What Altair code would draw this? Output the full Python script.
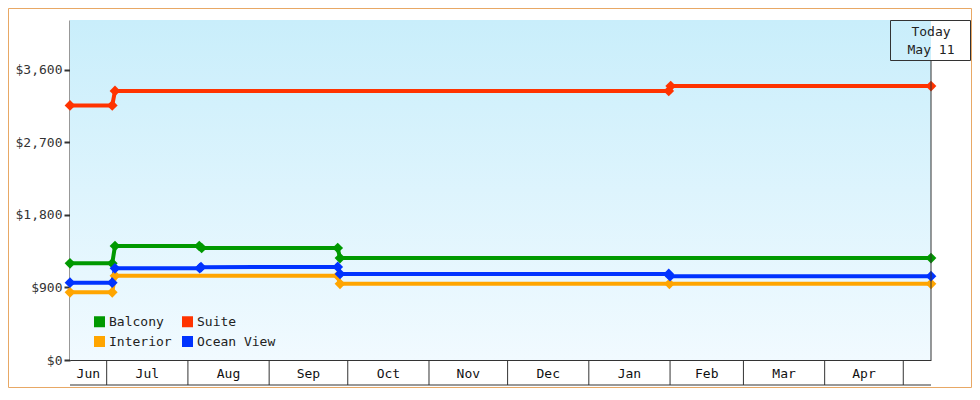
import altair as alt
import pandas as pd

# ---------------- data ----------------
series_order = ["Balcony", "Suite", "Interior", "Ocean View"]
series_colors = ["#009900", "#ff3300", "#ffa500", "#0033ff"]

interior_dates = ["2014-06-17T00:00", "2014-07-03T03:00", "2014-07-04T04:00",
                  "2014-09-27T04:00", "2014-09-28T01:00", "2015-01-31T18:00",
                  "2015-05-11T14:00"]
interior_prices = [840, 840, 1045, 1045, 945, 945, 945]

balcony_dates = ["2014-06-17T00:00", "2014-07-03T03:00", "2014-07-04T04:00",
                 "2014-08-05T08:00", "2014-08-06T06:00", "2014-09-27T04:00",
                 "2014-09-28T01:00", "2015-05-11T14:00"]
balcony_prices = [1200, 1200, 1415, 1415, 1390, 1390, 1265, 1265]

ocean_dates = ["2014-06-17T00:00", "2014-07-03T03:00", "2014-07-04T04:00",
               "2014-08-05T12:00", "2014-08-06T00:00", "2014-09-27T04:00",
               "2014-09-28T01:00", "2015-01-31T12:00", "2015-02-01T00:00",
               "2015-05-11T14:00"]
ocean_prices = [960, 960, 1138, 1140, 1152, 1155, 1068, 1068, 1040, 1040]

suite_dates = ["2014-06-17T00:00", "2014-07-03T03:00", "2014-07-04T04:00",
               "2015-01-31T12:00", "2015-02-01T06:00", "2015-05-11T14:00"]
suite_prices = [3160, 3160, 3340, 3340, 3400, 3400]

month_boundaries = ["2014-07-01T00:00", "2014-08-01T00:00", "2014-09-01T00:00",
                    "2014-10-01T00:00", "2014-11-01T00:00", "2014-12-01T00:00",
                    "2015-01-01T00:00", "2015-02-01T00:00", "2015-03-01T00:00",
                    "2015-04-01T00:00", "2015-05-01T00:00"]
month_labels = ["Jun", "Jul", "Aug", "Sep", "Oct", "Nov", "Dec", "Jan", "Feb", "Mar", "Apr"]
month_label_dates = ["2014-06-24T00:00", "2014-07-16T12:00", "2014-08-16T12:00",
                     "2014-09-16T00:00", "2014-10-16T12:00", "2014-11-16T00:00",
                     "2014-12-16T12:00", "2015-01-16T12:00", "2015-02-15T00:00",
                     "2015-03-16T12:00", "2015-04-16T00:00"]

y_ticks = [0, 900, 1800, 2700, 3600]
today_date = "2015-05-11T14:00"
today_lines = ["Today", "May 11"]

# ---------------- tables ----------------
rows = []
for name, ds, ps in [("Interior", interior_dates, interior_prices),
                     ("Balcony", balcony_dates, balcony_prices),
                     ("Ocean View", ocean_dates, ocean_prices),
                     ("Suite", suite_dates, suite_prices)]:
    for d, p in zip(ds, ps):
        rows.append({"series": name, "date": d, "price": p})
df = pd.DataFrame(rows)
ticks_df = pd.DataFrame({"date": month_boundaries})
labels_df = pd.DataFrame({"date": month_label_dates, "label": month_labels})
today_df = pd.DataFrame({"date": [today_date]})

W, H = 861, 340
FONT = "DejaVu Sans Mono"

x_scale = alt.Scale(domain=[alt.DateTime(year=2014, month=6, date=17),
                            alt.DateTime(year=2015, month=5, date=11, hours=14)],
                    nice=False)
y_scale = alt.Scale(domain=[0, 4220], nice=False)


def xenc(field="date"):
    return alt.X(f"{field}:T", scale=x_scale, title=None)


color_scale = alt.Scale(domain=series_order, range=series_colors)

background = alt.Chart(alt.Data(values=[{}])).mark_rect(
    fill=alt.Gradient(gradient="linear",
                      stops=[alt.GradientStop(color="#c9eefb", offset=0),
                             alt.GradientStop(color="#f1faff", offset=1)],
                      x1=0, x2=0, y1=0, y2=1)
).encode(x=alt.value(0), x2=alt.value(W), y=alt.value(0), y2=alt.value(H))

border = alt.Chart(alt.Data(values=[{}])).mark_rect(
    fillOpacity=0, stroke="#e8a865", strokeWidth=1
).encode(x=alt.value(-61.5), x2=alt.value(W + 40.5),
         y=alt.value(-11.5), y2=alt.value(H + 27.5))

tick_rules = alt.Chart(ticks_df).mark_rule(color="#333333", strokeWidth=1).encode(
    x=xenc(), y=alt.value(H), y2=alt.value(H + 25))

bottom_line = alt.Chart(alt.Data(values=[{}])).mark_rule(color="#333333", strokeWidth=1).encode(
    x=alt.value(0), x2=alt.value(W), y=alt.value(H + 25))

month_text = alt.Chart(labels_df).mark_text(
    font=FONT, fontSize=13, color="#111111", baseline="middle", align="center"
).encode(x=xenc(), y=alt.value(H + 14), text="label:N")

y_enc = alt.Y("price:Q", scale=y_scale, title=None,
              axis=alt.Axis(values=y_ticks, format="$,.0f", grid=False,
                            domainColor="#333333", domainWidth=2,
                            tickColor="#333333", tickWidth=2, tickSize=6,
                            labelFont=FONT, labelFontSize=13, labelColor="#333333",
                            labelPadding=2))

lines = alt.Chart(df).mark_line(strokeWidth=4).encode(
    x=alt.X("date:T", scale=x_scale, title=None,
            axis=alt.Axis(labels=False, ticks=False, grid=False,
                          domainColor="#333333", domainWidth=1)),
    y=y_enc,
    color=alt.Color("series:N", scale=color_scale, legend=None),
    detail="series:N",
)

points = alt.Chart(df).mark_point(shape="diamond", filled=True, size=115, opacity=1).encode(
    x=xenc(), y=alt.Y("price:Q", scale=y_scale, title=None),
    color=alt.Color("series:N", scale=color_scale,
                    legend=alt.Legend(orient="none", legendX=23, legendY=295,
                                      columns=2, direction="horizontal",
                                      title=None, symbolType="square",
                                      symbolSize=121, symbolStrokeWidth=0,
                                      symbolOpacity=1,
                                      labelFont=FONT, labelFontSize=13,
                                      labelColor="#222222", columnPadding=9,
                                      rowPadding=6, labelOffset=3, padding=0)),
)

today_rule = alt.Chart(today_df).mark_rule(color="#333333", strokeWidth=1).encode(
    x=xenc(), y=alt.value(40), y2=alt.value(H))

today_box = alt.Chart(today_df).mark_rect(
    fillOpacity=0, stroke="#333333", strokeWidth=1, xOffset=-40.5, x2Offset=39.5
).encode(x=xenc(), x2="date:T", y=alt.value(0.5), y2=alt.value(40.5))

today_t1 = alt.Chart(today_df).mark_text(
    font=FONT, fontSize=13, color="#222222", baseline="middle", align="center",
    text=today_lines[0]
).encode(x=xenc(), y=alt.value(12))

today_t2 = alt.Chart(today_df).mark_text(
    font=FONT, fontSize=13, color="#222222", baseline="middle", align="center",
    text=today_lines[1]
).encode(x=xenc(), y=alt.value(30))

chart = alt.layer(
    background, border, tick_rules, bottom_line, lines, points, month_text,
    today_rule, today_box, today_t1, today_t2
).resolve_legend(color="independent").properties(
    width=W, height=H,
    autosize=alt.AutoSizeParams(type="none"),
    padding={"left": 62, "top": 12, "right": 41, "bottom": 28},
    background="white",
).configure_view(strokeWidth=0)

chart.save("out.html", embed_options={"renderer": "svg", "actions": False})
